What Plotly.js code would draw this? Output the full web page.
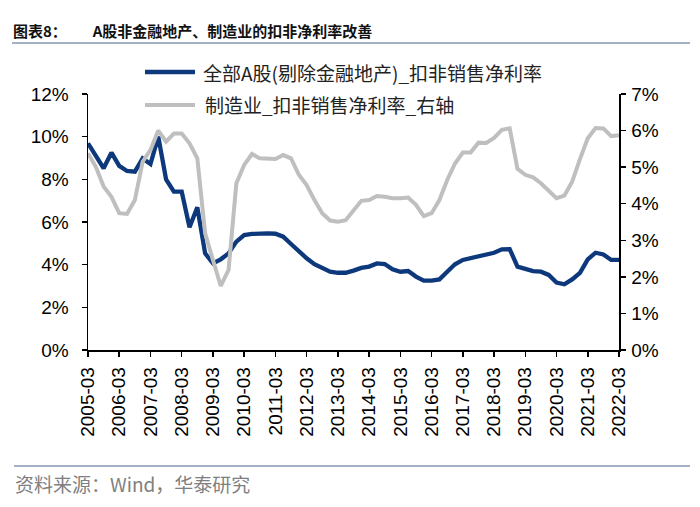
<!DOCTYPE html>
<html>
<head>
<meta charset="utf-8">
<script src="https://cdn.plot.ly/plotly-3.0.1.min.js"></script>
<style>html,body{margin:0;padding:0;background:#fff}</style>
</head>
<body>
<div id="chart" style="width:700px;height:507px"></div>
<script>
// Quarter labels 2005-03 ... 2022-03
const quarters = [];
for (let y = 2005; y <= 2022; y++) {
  for (const m of ['03', '06', '09', '12']) {
    if (y === 2022 && m !== '03') break;
    quarters.push(y + '-' + m);
  }
}
const yearTicks = quarters.filter(q => q.endsWith('-03'));

// 全部A股(剔除金融地产)_扣非销售净利率 (%), left axis
const allA = [
  9.69, 9.14, 8.52, 9.25, 8.63, 8.39, 8.36, 8.98, 8.72, 10.0, 8.00, 7.42,
  7.42, 5.75, 6.69, 4.53, 4.06, 4.25, 4.53, 5.08, 5.39, 5.44, 5.47, 5.47,
  5.45, 5.31, 4.97, 4.61, 4.30, 4.02, 3.83, 3.67, 3.62, 3.62, 3.72, 3.85,
  3.91, 4.06, 4.03, 3.78, 3.67, 3.70, 3.44, 3.25, 3.25, 3.31, 3.67, 4.02,
  4.22, 4.30, 4.42, 4.45, 4.56, 4.72, 4.73, 3.91, 3.78, 3.70, 3.67, 3.52,
  3.16, 3.08, 3.31, 3.62, 4.25, 4.56, 4.48, 4.22, 4.22
];

// 制造业_扣非销售净利率 (%), right axis
const manuf = [
  5.38, 5.01, 4.47, 4.19, 3.74, 3.72, 4.10, 5.15, 5.47, 6.00, 5.70, 5.92,
  5.92, 5.65, 5.24, 3.19, 2.46, 1.75, 2.19, 4.56, 5.06, 5.36, 5.24, 5.24,
  5.22, 5.33, 5.24, 4.79, 4.51, 4.10, 3.74, 3.54, 3.51, 3.55, 3.83, 4.08,
  4.10, 4.21, 4.19, 4.15, 4.15, 4.17, 3.97, 3.66, 3.74, 4.10, 4.65, 5.10,
  5.40, 5.40, 5.67, 5.66, 5.80, 6.02, 6.06, 4.95, 4.79, 4.72, 4.56, 4.36,
  4.15, 4.22, 4.60, 5.22, 5.79, 6.07, 6.06, 5.85, 5.87
];

const seriesNames = ['全部A股(剔除金融地产)_扣非销售净利率', '制造业_扣非销售净利率_右轴'];
const titleText = '图表8：　　 A股非金融地产、制造业的扣非净利率改善';
const sourceText = '资料来源：Wind，华泰研究';

const BLUE = '#0d397c';
const GREY = '#bfbfbf';
const CJK = '"Noto Sans CJK SC", "Noto Sans", sans-serif';
const LAT = '"Liberation Sans", Arial, sans-serif';

// plot area in pixels
const L = 88, R = 619, T = 94, B = 350;
const px = x => (x - L) / (R - L);
const py = y => (B - y) / (B - T);

const traces = [
  {
    x: quarters, y: manuf, type: 'scatter', mode: 'lines', name: seriesNames[1],
    yaxis: 'y2', line: {color: GREY, width: 4}, showlegend: false, hoverinfo: 'skip'
  },
  {
    x: quarters, y: allA, type: 'scatter', mode: 'lines', name: seriesNames[0],
    yaxis: 'y', line: {color: BLUE, width: 4.3}, showlegend: false, hoverinfo: 'skip'
  }
];

const axisCommon = {
  showline: true, linecolor: '#000', linewidth: 1.5,
  ticks: 'outside', ticklen: 5, tickwidth: 1.5, tickcolor: '#000',
  showgrid: false, zeroline: false,
  tickfont: {family: LAT, size: 19, color: '#000'}
};

const layout = {
  width: 700, height: 507,
  margin: {l: L, r: 700 - R, t: T, b: 507 - B},
  paper_bgcolor: '#fff', plot_bgcolor: '#fff',
  showlegend: false,
  xaxis: Object.assign({}, axisCommon, {
    type: 'category', range: [0, quarters.length - 1],
    tickmode: 'array', tickvals: yearTicks, ticktext: yearTicks,
    tickangle: -90, ticklabelstandoff: 3
  }),
  yaxis: Object.assign({}, axisCommon, {
    range: [0, 12], dtick: 2, tick0: 0, ticksuffix: '%', ticklabelstandoff: 9
  }),
  yaxis2: Object.assign({}, axisCommon, {
    range: [0, 7], dtick: 1, tick0: 0, ticksuffix: '%',
    overlaying: 'y', side: 'right', ticklabelstandoff: 2
  }),
  shapes: [
    {type: 'line', xref: 'paper', yref: 'paper', x0: px(12), x1: px(690), y0: py(43), y1: py(43),
     line: {color: '#8497b0', width: 1.5}},
    {type: 'line', xref: 'paper', yref: 'paper', x0: px(14), x1: px(690), y0: py(466), y1: py(466),
     line: {color: '#8497b0', width: 1.5}},
    {type: 'line', xref: 'paper', yref: 'paper', x0: px(145), x1: px(195), y0: py(72), y1: py(72),
     line: {color: BLUE, width: 4.3}},
    {type: 'line', xref: 'paper', yref: 'paper', x0: px(145), x1: px(195), y0: py(105), y1: py(105),
     line: {color: GREY, width: 4}}
  ],
  annotations: [
    {text: titleText, xref: 'paper', yref: 'paper', x: px(11), y: py(30),
     xanchor: 'left', yanchor: 'middle', showarrow: false,
     font: {family: CJK, size: 15, color: '#111', weight: 'bold'}},
    {text: seriesNames[0], xref: 'paper', yref: 'paper', x: px(201), y: py(72),
     xanchor: 'left', yanchor: 'middle', showarrow: false,
     font: {family: CJK, size: 19, color: '#222'}},
    {text: seriesNames[1], xref: 'paper', yref: 'paper', x: px(203), y: py(104),
     xanchor: 'left', yanchor: 'middle', showarrow: false,
     font: {family: CJK, size: 19, color: '#222'}},
    {text: sourceText, xref: 'paper', yref: 'paper', x: px(13), y: py(483),
     xanchor: 'left', yanchor: 'middle', showarrow: false,
     font: {family: CJK, size: 19, color: '#7f7f7f'}}
  ]
};

Plotly.newPlot('chart', traces, layout, {staticPlot: true, displayModeBar: false});
</script>
</body>
</html>
